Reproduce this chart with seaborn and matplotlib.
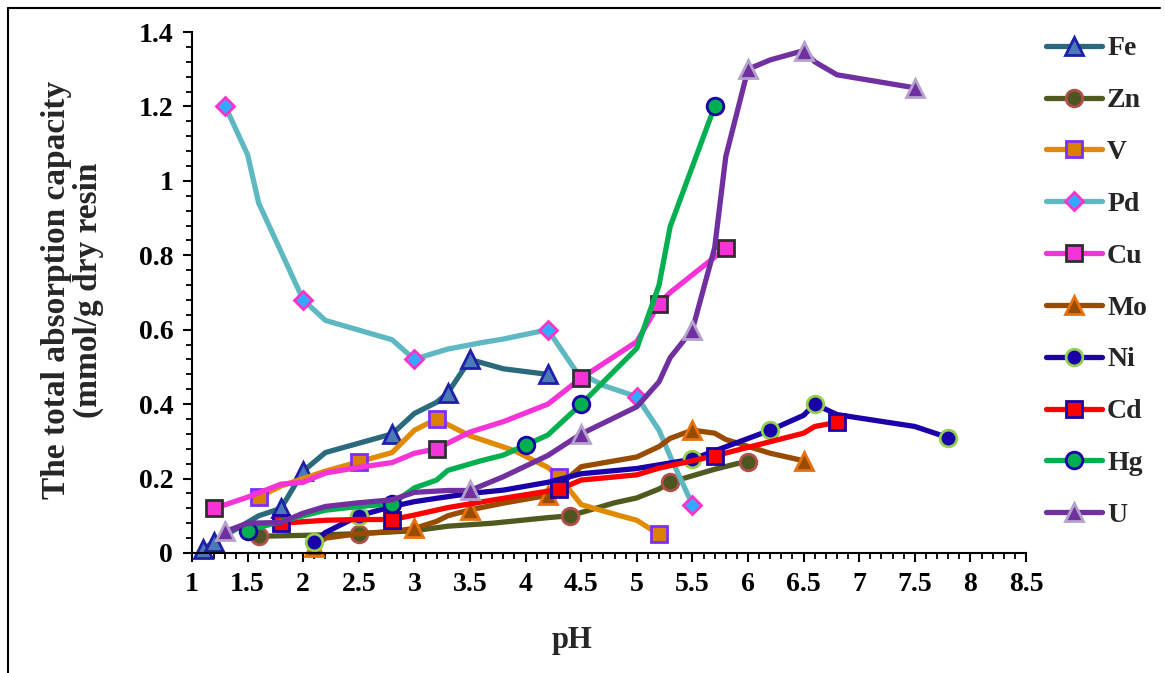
import numpy as np
import matplotlib
matplotlib.use("Agg")
import matplotlib.pyplot as plt
import seaborn as sns
from matplotlib.lines import Line2D
from matplotlib.ticker import MultipleLocator, FixedLocator

# ---------------- data ----------------
metals = ["Fe", "Zn", "V", "Pd", "Cu", "Mo", "Ni", "Cd", "Hg", "U"]

fe_ph = [1.1, 1.2, 1.6, 1.8, 2.0, 2.2, 2.8, 3.0, 3.2, 3.3, 3.5, 3.8, 4.2]
fe_cap = [0.01, 0.03, 0.10, 0.12, 0.22, 0.27, 0.32, 0.375, 0.405, 0.43, 0.52, 0.495, 0.48]
fe_mk = [1.1, 1.2, 1.8, 2.0, 2.8, 3.3, 3.5, 4.2]

zn_ph = [1.6, 2.1, 2.5, 3.0, 3.3, 3.7, 4.2, 4.4, 4.8, 5.0, 5.2, 5.3, 5.7, 5.9, 6.0]
zn_cap = [0.045, 0.048, 0.052, 0.06, 0.072, 0.08, 0.095, 0.10, 0.135, 0.148, 0.172, 0.19, 0.225, 0.24, 0.245]
zn_mk = [1.6, 2.5, 4.4, 5.3, 6.0]

v_ph = [1.6, 1.8, 2.2, 2.5, 2.8, 3.0, 3.2, 3.5, 3.9, 4.2, 4.3, 4.5, 4.85, 5.0, 5.2]
v_cap = [0.15, 0.18, 0.22, 0.245, 0.27, 0.33, 0.36, 0.315, 0.275, 0.23, 0.205, 0.13, 0.10, 0.088, 0.05]
v_mk = [1.6, 2.5, 3.2, 4.3, 5.2]

pd_ph = [1.3, 1.5, 1.6, 2.0, 2.2, 2.8, 3.0, 3.1, 3.3, 3.6, 3.8, 4.2, 4.45, 4.7, 5.0, 5.2, 5.3, 5.5]
pd_cap = [1.2, 1.07, 0.94, 0.68, 0.625, 0.573, 0.52, 0.53, 0.548, 0.565, 0.575, 0.60, 0.49, 0.45, 0.42, 0.33, 0.26, 0.13]
pd_mk = [1.3, 2.0, 3.0, 4.2, 5.0, 5.5]

cu_ph = [1.2, 1.5, 1.8, 2.0, 2.2, 2.5, 2.8, 3.0, 3.2, 3.5, 3.8, 4.2, 4.5, 5.0, 5.2, 5.3, 5.7, 5.8]
cu_cap = [0.12, 0.15, 0.185, 0.19, 0.215, 0.23, 0.243, 0.268, 0.28, 0.325, 0.353, 0.40, 0.47, 0.568, 0.67, 0.70, 0.795, 0.82]
cu_mk = [1.2, 3.2, 4.5, 5.2, 5.8]

mo_ph = [2.1, 2.2, 2.5, 2.8, 3.0, 3.2, 3.3, 3.5, 3.8, 4.2, 4.5, 5.0, 5.2, 5.3, 5.5, 5.7, 5.8, 6.2, 6.5]
mo_cap = [0.015, 0.04, 0.052, 0.058, 0.066, 0.085, 0.10, 0.116, 0.134, 0.155, 0.232, 0.258, 0.286, 0.308, 0.33, 0.322, 0.305, 0.268, 0.248]
mo_mk = [2.1, 3.0, 3.5, 4.2, 5.5, 6.5]

ni_ph = [2.1, 2.2, 2.5, 2.8, 3.0, 3.2, 3.5, 3.8, 4.2, 4.5, 5.0, 5.2, 5.5, 6.2, 6.5, 6.6, 6.8, 7.5, 7.8]
ni_cap = [0.03, 0.055, 0.10, 0.125, 0.138, 0.147, 0.16, 0.169, 0.19, 0.213, 0.227, 0.237, 0.252, 0.33, 0.37, 0.40, 0.372, 0.34, 0.31]
ni_mk = [2.1, 2.5, 5.5, 6.2, 6.6, 7.8]

cd_ph = [1.8, 2.2, 2.5, 2.8, 3.0, 3.3, 3.5, 3.8, 4.3, 4.5, 5.0, 5.2, 5.7, 6.5, 6.6, 6.8]
cd_cap = [0.08, 0.088, 0.09, 0.09, 0.102, 0.122, 0.132, 0.147, 0.171, 0.196, 0.21, 0.228, 0.261, 0.322, 0.34, 0.351]
cd_mk = [1.8, 2.8, 4.3, 5.7, 6.8]

hg_ph = [1.5, 1.8, 2.0, 2.2, 2.5, 2.8, 3.0, 3.2, 3.3, 3.6, 3.8, 4.0, 4.2, 4.5, 5.0, 5.2, 5.3, 5.7]
hg_cap = [0.06, 0.085, 0.10, 0.115, 0.125, 0.132, 0.175, 0.196, 0.222, 0.248, 0.263, 0.29, 0.317, 0.40, 0.55, 0.72, 0.877, 1.2]
hg_mk = [1.5, 2.8, 4.0, 4.5, 5.7]

u_ph = [1.3, 1.5, 1.8, 2.0, 2.2, 2.5, 2.8, 3.0, 3.3, 3.5, 3.8, 4.2, 4.5, 5.0, 5.2, 5.3, 5.5, 5.6, 5.7, 5.8, 6.0, 6.2, 6.5, 6.6, 6.8, 7.5]
u_cap = [0.058, 0.08, 0.082, 0.107, 0.125, 0.135, 0.143, 0.163, 0.168, 0.168, 0.205, 0.262, 0.32, 0.393, 0.46, 0.525, 0.60, 0.71, 0.82, 1.065, 1.30, 1.325, 1.35, 1.32, 1.285, 1.25]
u_mk = [1.3, 3.5, 4.5, 5.5, 6.0, 6.5, 7.5]

x_ticks = [1, 1.5, 2, 2.5, 3, 3.5, 4, 4.5, 5, 5.5, 6, 6.5, 7, 7.5, 8, 8.5]
x_tick_labels = ["1", "1.5", "2", "2.5", "3", "3.5", "4", "4.5", "5", "5.5", "6", "6.5", "7", "7.5", "8", "8.5"]
y_ticks = [0, 0.2, 0.4, 0.6, 0.8, 1.0, 1.2, 1.4]
y_tick_labels = ["0", "0.2", "0.4", "0.6", "0.8", "1", "1.2", "1.4"]

series = {
    "Fe": (fe_ph, fe_cap, fe_mk),
    "Zn": (zn_ph, zn_cap, zn_mk),
    "V": (v_ph, v_cap, v_mk),
    "Pd": (pd_ph, pd_cap, pd_mk),
    "Cu": (cu_ph, cu_cap, cu_mk),
    "Mo": (mo_ph, mo_cap, mo_mk),
    "Ni": (ni_ph, ni_cap, ni_mk),
    "Cd": (cd_ph, cd_cap, cd_mk),
    "Hg": (hg_ph, hg_cap, hg_mk),
    "U": (u_ph, u_cap, u_mk),
}

# ---------------- styles ----------------
styles = {
    "Fe": dict(color="#2B6A7C", marker="^", mfc="#4A7BB7", mec="#1F1FA8", ms=13),
    "Zn": dict(color="#4F5A1F", marker="o", mfc="#4F5520", mec="#B0504A", ms=12),
    "V":  dict(color="#E08A00", marker="s", mfc="#D98000", mec="#7B2FFF", ms=11),
    "Pd": dict(color="#5EB8C2", marker="D", mfc="#33A8FF", mec="#FF33CC", ms=9),
    "Cu": dict(color="#F533D6", marker="s", mfc="#F533D6", mec="#2F2F2F", ms=11),
    "Mo": dict(color="#984C00", marker="^", mfc="#984C00", mec="#E8700F", ms=13),
    "Ni": dict(color="#1A00A8", marker="o", mfc="#1A00A8", mec="#92D050", ms=12),
    "Cd": dict(color="#FF0000", marker="s", mfc="#FF0000", mec="#1A00A8", ms=11),
    "Hg": dict(color="#00B050", marker="o", mfc="#00B050", mec="#1A00A8", ms=12),
    "U":  dict(color="#7030A0", marker="^", mfc="#7030A0", mec="#B4A2CC", ms=13),
}

sns.set_style("ticks")
plt.rcParams["font.family"] = ["Liberation Serif", "DejaVu Serif"]
plt.rcParams["font.weight"] = "bold"

fig = plt.figure(figsize=(11.65, 6.73), dpi=100)
ax = fig.add_axes([192 / 1165, 1 - 553 / 673, (1026 - 192) / 1165, (553 - 32) / 673])

LW = 3.8
MEW = 2.0
handles = []
for name in metals:
    xs, ys, mk = series[name]
    st = styles[name]
    idx = [i for i, v in enumerate(xs) if any(np.isclose(v, m) for m in mk)]
    sns.lineplot(x=xs, y=ys, ax=ax, sort=False, estimator=None, errorbar=None,
                 color=st["color"], linewidth=LW, marker=st["marker"],
                 markersize=st["ms"], markerfacecolor=st["mfc"],
                 markeredgecolor=st["mec"], markeredgewidth=MEW,
                 markevery=idx, clip_on=False, solid_capstyle="round",
                 solid_joinstyle="round", legend=False)
    handles.append(Line2D([0], [0], color=st["color"], linewidth=LW,
                          marker=st["marker"], markersize=st["ms"],
                          markerfacecolor=st["mfc"], markeredgecolor=st["mec"],
                          markeredgewidth=MEW, solid_capstyle="round", label=name))

ax.set_xlim(1, 8.5)
ax.set_ylim(0, 1.4)
ax.xaxis.set_major_locator(FixedLocator(x_ticks))
ax.set_xticklabels(x_tick_labels)
ax.yaxis.set_major_locator(FixedLocator(y_ticks))
ax.set_yticklabels(y_tick_labels)
ax.xaxis.set_minor_locator(MultipleLocator(0.1))
ax.yaxis.set_minor_locator(MultipleLocator(0.04))
ax.tick_params(which="major", direction="out", length=6.5, width=1.5, colors="black",
               labelsize=20, pad=7)
ax.tick_params(which="minor", direction="out", length=4, width=1.3, colors="black")
for lab in ax.get_xticklabels() + ax.get_yticklabels():
    lab.set_fontweight("bold")

for s in ["top", "right"]:
    ax.spines[s].set_visible(False)
for s in ["left", "bottom"]:
    ax.spines[s].set_linewidth(1.5)
    ax.spines[s].set_color("black")

ax.set_xlabel("pH", fontsize=22, fontweight="bold")
ax.xaxis.set_label_coords(0.456, -0.14)
ax.set_ylabel("The total absorption capacity\n(mmol/g dry resin", fontsize=24,
              fontweight="bold", linespacing=1.05)
ax.yaxis.set_label_coords(-0.105, 0.505)

fig.legend(handles=handles, loc="upper left",
           bbox_to_anchor=(1046 / 1165, 1 - 36 / 673), frameon=False,
           prop=dict(family=["Liberation Serif"], weight="bold", size=20),
           handlelength=2.0, handletextpad=0.2, labelspacing=0.95,
           borderpad=0, borderaxespad=0, numpoints=1)

# figure frame lines
fig.add_artist(Line2D([8 / 1165, 1160 / 1165], [1 - 8 / 673, 1 - 8 / 673],
                      color="black", lw=1.5, transform=fig.transFigure))
fig.add_artist(Line2D([8 / 1165, 8 / 1165], [1 - 8 / 673, 0],
                      color="black", lw=1.5, transform=fig.transFigure))

fig.savefig("out.png", dpi=100)
